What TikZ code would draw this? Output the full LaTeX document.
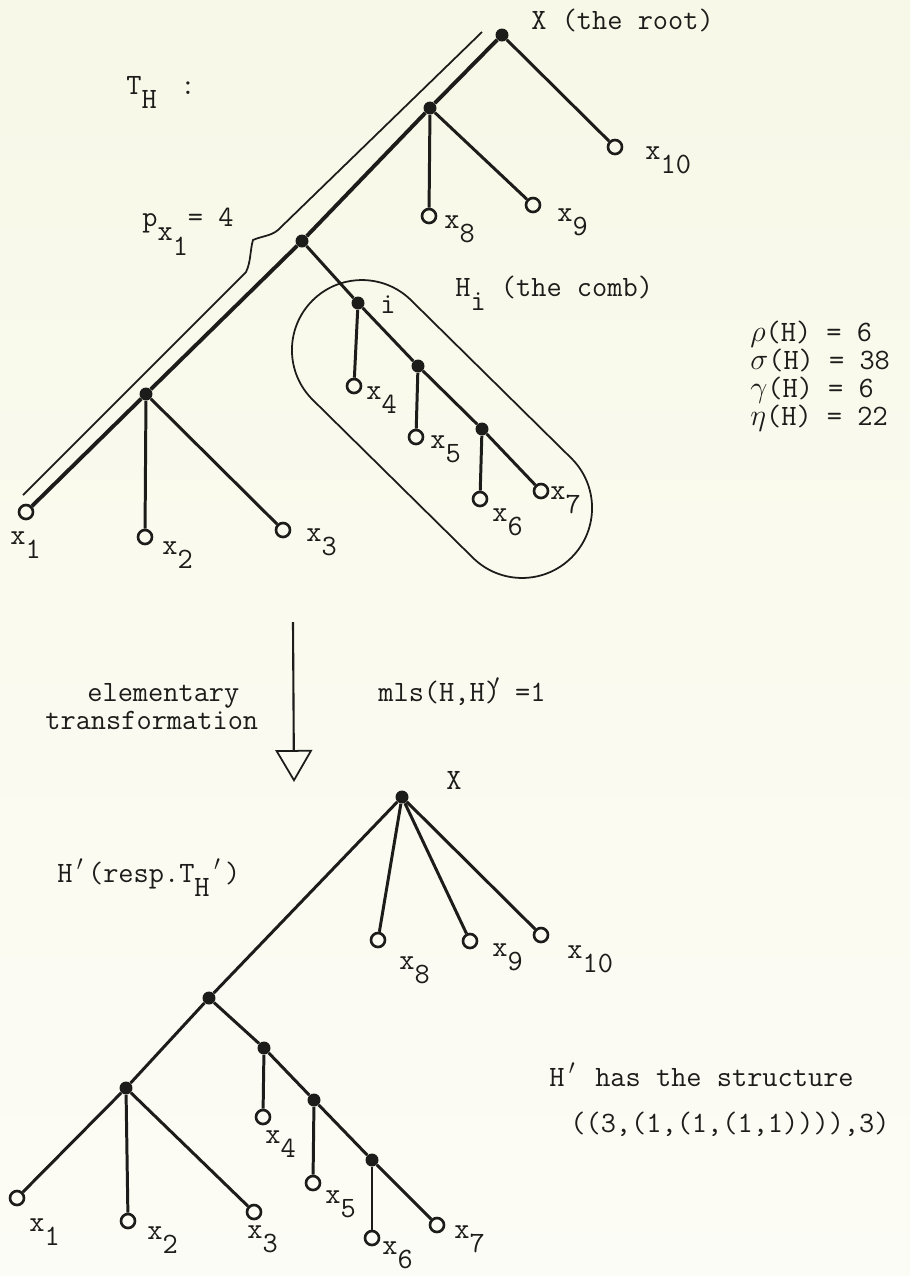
\documentclass[tikz,border=0pt]{standalone}
\usepackage{tikz}
\usetikzlibrary{arrows.meta, positioning, shapes.geometric}
\definecolor{mink}{HTML}{1C1C1A}
\definecolor{mpaper}{HTML}{F8F8E8}
\definecolor{mpaperlow}{HTML}{FCFCF6}
\newcommand{\typew}{\fontsize{16.8}{16}\selectfont\ttfamily}
\newcommand{\low}[1]{\raisebox{-8.5pt}{#1}}
\newcommand{\pr}{\makebox[0.525em]{$'$}}
\tikzset{
  knot/.style={circle, fill=mink, minimum size=0.26cm, inner sep=0pt},
  leaf/.style={circle, draw=mink, line width=1.5pt, minimum size=0.28cm, inner sep=0pt},
  branch/.style={draw=mink, line width=1.7pt},
  spine/.style={draw=mink, line width=2.2pt},
  fine/.style={draw=mink, line width=1pt},
  lbl/.style={anchor=base west, inner sep=0pt, text=mink, font=\typew},
}

\begin{document}
\begin{tikzpicture}[x=0.02cm, y=-0.02cm]
  \useasboundingbox (0,0) rectangle (910,1276);
  \fill[top color=mpaper, bottom color=mpaperlow] (0,0) rectangle (910,1276);

  % T_H
  \node[knot] (root) at (502,35) {};
  \node[knot] (nA) at (430,108) {};
  \node[knot] (nB) at (302,241) {};
  \node[knot] (nC) at (146,394) {};
  \node[knot] (nI) at (358,303) {};
  \node[knot] (nD) at (418,366) {};
  \node[knot] (nE) at (482,429) {};
  \node[leaf] (x1) at (26,512) {};
  \node[leaf] (x2) at (145,537) {};
  \node[leaf] (x3) at (283,530) {};
  \node[leaf] (x4) at (354,386) {};
  \node[leaf] (x5) at (416,437) {};
  \node[leaf] (x6) at (480,499) {};
  \node[leaf] (x7) at (541,491) {};
  \node[leaf] (x8) at (429,216) {};
  \node[leaf] (x9) at (533,205) {};
  \node[leaf] (x10) at (615,147) {};
  \foreach \a/\b in {root/nA, nA/nB, nB/nC, nC/x1}
    \draw[spine] (\a) -- (\b);
  \foreach \a/\b in {root/x10, nA/x8, nA/x9, nB/nI, nI/x4, nI/nD, nD/x5,
                     nD/nE, nE/x6, nE/x7, nC/x2, nC/x3}
    \draw[branch] (\a) -- (\b);

  \draw[fine] (23,495) -- (246,272) .. controls (251,262) and (250,250) .. (253,240)
    .. controls (262,236) and (271,236) .. (278,230) -- (482,32);
  \node[fine, draw, rounded corners=1.4cm, minimum width=7.3cm, minimum height=2.8cm,
        rotate=-44.6] (comb) at (442,429) {};

  \node[lbl] (rootlbl) at (531,29) {X (the root)};
  \node[lbl] (thlbl) at (126,94) {T\low{H}\hspace{0.8em}:};
  \node[lbl] (plbl) at (142,226) {p\low{x\low{1}}= 4};
  \node[lbl] (combl) at (455,296) {H\low{i} (the comb)};
  \node[lbl] (ilbl) at (380,313) {i};
  \node[lbl] (l1) at (10,544) {x\low{1}};
  \node[lbl] (l2) at (162,554) {x\low{2}};
  \node[lbl] (l3) at (306,541) {x\low{3}};
  \node[lbl] (l4) at (366,399) {x\low{4}};
  \node[lbl] (l5) at (430,448) {x\low{5}};
  \node[lbl] (l6) at (492,521) {x\low{6}};
  \node[lbl] (l7) at (550,499) {x\low{7}};
  \node[lbl] (l8) at (444,228) {x\low{8}};
  \node[lbl] (l9) at (557,221) {x\low{9}};
  \node[lbl] (l10) at (645,159) {x\low{10}};
  \foreach \g/\v [count=\k from 0] in {\rho/6, \sigma/38, \gamma/6, \eta/22}
    \node[lbl] (m\k) at (750,341+28*\k) {$\g$(H) = \v};

  % transformation
  \coordinate (arrtop) at (293,622);
  \coordinate (arrtip) at (294,782);
  \draw[mink, line width=1.2pt, -{Triangle[open, length=0.64cm, width=0.74cm, line width=1pt]}]
    (arrtop) -- (arrtip);
  \node[lbl] (elem) at (87,701) {elementary};
  \node[lbl] (trans) at (45,729) {transformation};
  \node[lbl] (mls) at (378,701) {mls(H,H)\llap{$'$} =1};

  % H'
  \node[knot] (root2) at (402,797) {};
  \node[knot] (mB) at (209,998) {};
  \node[knot] (mC) at (126,1088) {};
  \node[knot] (mI) at (264,1048) {};
  \node[knot] (mD) at (314,1100) {};
  \node[knot] (mE) at (372,1160) {};
  \node[leaf] (y1) at (17,1198) {};
  \node[leaf] (y2) at (128,1221) {};
  \node[leaf] (y3) at (254,1212) {};
  \node[leaf] (y4) at (263,1117) {};
  \node[leaf] (y5) at (313,1183) {};
  \node[leaf] (y6) at (372,1238) {};
  \node[leaf] (y7) at (437,1225) {};
  \node[leaf] (y8) at (378,940) {};
  \node[leaf] (y9) at (470,941) {};
  \node[leaf] (y10) at (541,935) {};
  \foreach \a/\b in {root2/mB, root2/y8, root2/y9, root2/y10, mB/mC, mB/mI, mI/y4,
                     mI/mD, mD/y5, mD/mE, mE/y6, mE/y7, mC/y1, mC/y2, mC/y3}
    \draw[branch] (\a) -- (\b);

  \node[lbl] (root2lbl) at (446,789) {X};
  \node[lbl] (hresp) at (57,882) {H\pr(resp.T\low{H}\pr)};
  \node[lbl] (k1) at (29,1231) {x\low{1}};
  \node[lbl] (k2) at (147,1239) {x\low{2}};
  \node[lbl] (k3) at (247,1238) {x\low{3}};
  \node[lbl] (k4) at (265,1143) {x\low{4}};
  \node[lbl] (k5) at (325,1203) {x\low{5}};
  \node[lbl] (k6) at (382,1254) {x\low{6}};
  \node[lbl] (k7) at (454,1238) {x\low{7}};
  \node[lbl] (k8) at (399,969) {x\low{8}};
  \node[lbl] (k9) at (492,956) {x\low{9}};
  \node[lbl] (k10) at (567,958) {x\low{10}};
  \node[lbl] (struct) at (549,1086) {H\pr{} has the structure};
  \node[lbl] (tuple) at (570,1132) {((3,(1,(1,(1,1)))),3)};
\end{tikzpicture}
\end{document}
